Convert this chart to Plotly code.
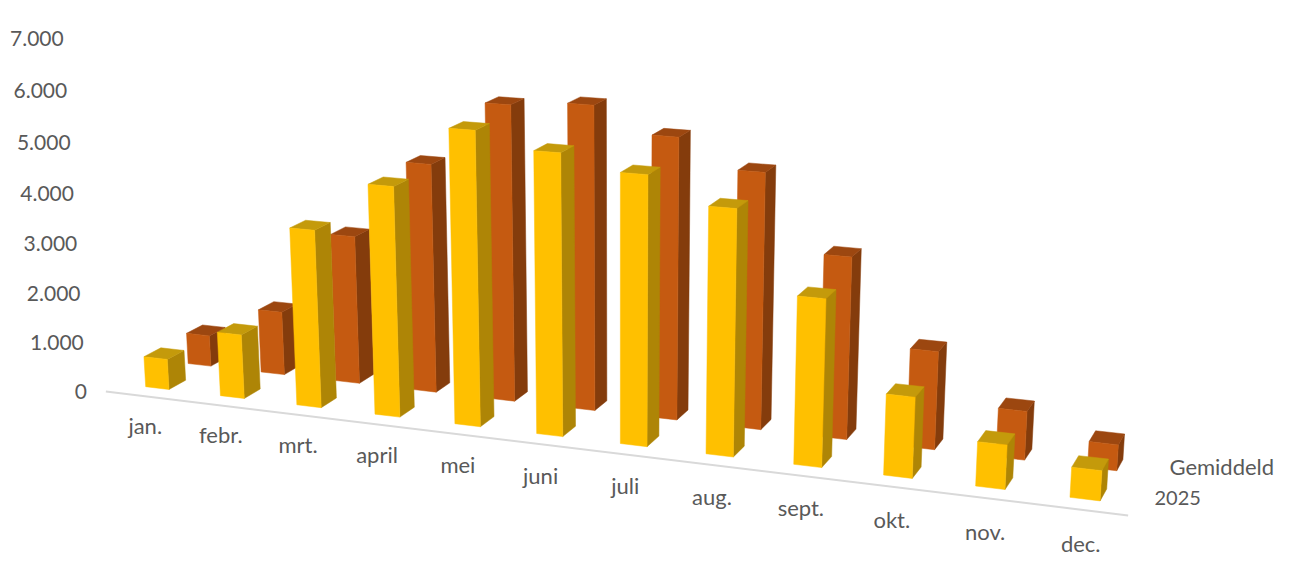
import plotly.graph_objects as go

months = ["jan.", "febr.", "mrt.", "april", "mei", "juni", "juli", "aug.", "sept.", "okt.", "nov.", "dec."]
values_2025 = [620, 1290, 3520, 4500, 5680, 5390, 5120, 4640, 3150, 1515, 825, 555]
values_gemiddeld = [640, 1300, 3000, 4570, 5840, 5950, 5470, 4940, 3500, 1880, 930, 490]
series_names = ["2025", "Gemiddeld"]
value_ticks = [0, 1000, 2000, 3000, 4000, 5000, 6000, 7000]
value_tick_labels = ["0", "1.000", "2.000", "3.000", "4.000", "5.000", "6.000", "7.000"]

FRONT = {"2025": "#FFC000", "Gemiddeld": "#C55A11"}
SIDE = {"2025": "#AE8506", "Gemiddeld": "#843C0C"}
TOP = {"2025": "#C49A0B", "Gemiddeld": "#9C4710"}
TEXT = "#595959"
FONT = dict(family="Lato, Carlito, sans-serif", size=21, color=TEXT)
FONT_CAT = dict(family="Lato, Carlito, sans-serif", size=22, color=TEXT)
FONT_SERIES = dict(family="Lato, Carlito, sans-serif", size=[20, 22], color=TEXT)

BAR_W = 0.314
BAR_D = 0.39


def project(i, d, v):
    """Perspective of the 3-D chart: month position i, series depth d, value v."""
    k = v / 1000.0
    w = 1 - 0.01093 * i + 0.03 * d - 0.00596 * k
    px = 145.7 + 72.33 * i + 48.09 * d - 3.695 * k
    py = 386.7 + 4.62 * i - 12.3 * d - 50.5 * k
    return px / w, py / w


def polygon_trace(polys, color, name):
    xs, ys = [], []
    for poly in polys:
        for x, y in poly:
            xs.append(x)
            ys.append(y)
        xs.append(xs[-len(poly)])
        ys.append(ys[-len(poly)])
        xs.append(None)
        ys.append(None)
    return go.Scatter(x=xs, y=ys, mode="lines", fill="toself", fillcolor=color,
                      line=dict(color=color, width=0.5), name=name,
                      hoverinfo="skip", showlegend=False)


def bar_faces(i, d, v):
    i0, i1 = i, i + BAR_W
    d0, d1 = d, d + BAR_D
    front = [project(i0, d0, 0), project(i1, d0, 0), project(i1, d0, v), project(i0, d0, v)]
    side = [project(i1, d0, 0), project(i1, d1, 0), project(i1, d1, v), project(i1, d0, v)]
    top = [project(i0, d0, v), project(i1, d0, v), project(i1, d1, v), project(i0, d1, v)]
    return front, side, top


fig = go.Figure()

# floor edge
p0 = project(-0.34, -0.33, 0)
p1 = project(11.66, -0.33, 0)
fig.add_trace(go.Scatter(x=[p0[0], p1[0]], y=[p0[1], p1[1]], mode="lines",
                         line=dict(color="#D9D9D9", width=2), hoverinfo="skip", showlegend=False))

# back row first, then the front row
for depth, name, vals in [(1, "Gemiddeld", values_gemiddeld), (0, "2025", values_2025)]:
    faces = [bar_faces(i, depth, v) for i, v in enumerate(vals)]
    fig.add_trace(polygon_trace([f[1] for f in faces], SIDE[name], name + " zijde"))
    fig.add_trace(polygon_trace([f[2] for f in faces], TOP[name], name + " boven"))
    fig.add_trace(polygon_trace([f[0] for f in faces], FRONT[name], name))

# value axis labels
pts = [project(-0.6, -0.33, v - 90) for v in value_ticks]
fig.add_trace(go.Scatter(x=[p[0] for p in pts], y=[p[1] for p in pts], mode="text",
                         text=value_tick_labels, textposition="middle left",
                         textfont=FONT, hoverinfo="skip", showlegend=False))

# month labels
pts = [project(i + BAR_W / 2 + 0.05, -0.4, -620) for i in range(len(months))]
fig.add_trace(go.Scatter(x=[p[0] for p in pts], y=[p[1] for p in pts], mode="text",
                         text=months, textposition="middle center",
                         textfont=FONT_CAT, hoverinfo="skip", showlegend=False))

# series labels
pts = [project(11.87, d, 140) for d in range(len(series_names))]
fig.add_trace(go.Scatter(x=[p[0] for p in pts], y=[p[1] for p in pts], mode="text",
                         text=series_names, textposition="middle right",
                         textfont=FONT_SERIES, hoverinfo="skip", showlegend=False))

# the page has an 8 px body margin, so the plot area starts at (8, 8)
fig.update_layout(
    width=1292, height=556, margin=dict(l=0, r=0, t=0, b=0),
    paper_bgcolor="white", plot_bgcolor="white", showlegend=False,
    xaxis=dict(range=[8, 1300], visible=False, fixedrange=True),
    yaxis=dict(range=[564, 8], visible=False, fixedrange=True),
)
fig.write_html("out.html")
